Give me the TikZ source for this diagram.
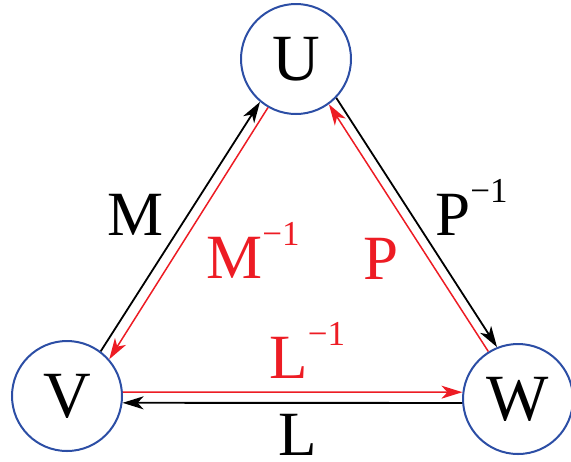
\documentclass[tikz,border=0pt]{standalone}
\usepackage{fontspec}
\setmainfont{Liberation Serif}
\usetikzlibrary{arrows.meta}

\definecolor{ringblue}{RGB}{44,78,165}
\definecolor{mapred}{RGB}{237,28,36}

\newcommand{\invsup}[1]{#1\raisebox{16.5pt}{\fontsize{17.5}{17.5}\selectfont −1}}

\begin{document}
\begin{tikzpicture}[
    x=0.5pt, y=-0.5pt,
    vtx/.style={circle, draw=ringblue, line width=1pt, minimum size=55pt,
        inner sep=0pt, font=\fontsize{33}{33}\selectfont, text depth=0pt},
    fwd/.style={line width=0.9pt, black,
        -{Stealth[length=10.5pt, width=6.5pt, inset=3pt]}},
    bwd/.style={line width=0.75pt, mapred,
        -{Stealth[length=10.5pt, width=6.5pt, inset=3pt]}},
    lbl/.style={inner sep=0pt, anchor=base west,
        font=\fontsize{31.5}{31.5}\selectfont},
]
\useasboundingbox (0,0) rectangle (571,461);

% --- vertices ---
\node[vtx] (U) at (296,59)  {U};
\node[vtx] (V) at (67,396)  {V};
\node[vtx] (W) at (518,399) {W};

% --- black maps ---
\draw[fwd] (V.53)  -- (U.230);
\draw[fwd] (U.-44) -- (W.112);
\draw[fwd] (W.184) -- (V.-7);

% --- red inverse maps ---
\draw[bwd] (U.240)   -- (V.41);
\draw[bwd] (W.122)   -- (U.-54.6);
\draw[bwd] (V.4)     -- (W.173);

% --- labels ---
\node[lbl] (lM)  at (107,235) {M};
\node[lbl] (lP)  at (435,235) {\invsup{P}};
\node[lbl] (lL)  at (278,455) {L};
\node[lbl, text=mapred] (lMi) at (206,278) {\invsup{M}};
\node[lbl, text=mapred] (lPi) at (363,279) {P};
\node[lbl, text=mapred] (lLi) at (269,378) {\invsup{L}};

\end{tikzpicture}
\end{document}
